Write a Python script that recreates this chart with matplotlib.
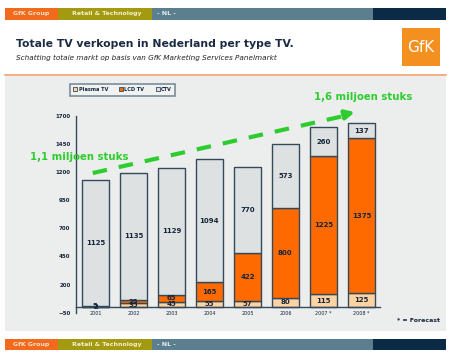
import numpy as np
import matplotlib
matplotlib.use('Agg')
import matplotlib.pyplot as plt
from matplotlib.patches import Rectangle, Patch

# data (stack: plasma at bottom, then LCD, then CTV)
years = ['2001', '2002', '2003', '2004', '2005', '2006', '2007 *', '2008 *']
plasma = [2, 35, 45, 55, 57, 80, 115, 125]
lcd = [5, 25, 65, 165, 422, 800, 1225, 1375]
ctv = [1125, 1135, 1129, 1094, 770, 573, 260, 137]
y_ticks = [-50, 200, 450, 700, 950, 1200, 1450, 1700]

c_plasma = '#fdd3a4'
c_lcd = '#ff6a00'
c_ctv = '#dde1e2'
c_edge = '#34495a'
c_text = '#16263a'
c_green = '#2ecc2e'
c_panel = '#eceeee'

fig = plt.figure(figsize=(4.5, 3.57), dpi=100)

# background drawn in pixel coordinates
bg = fig.add_axes([0, 0, 1, 1], zorder=0)
bg.set_xlim(0, 450)
bg.set_ylim(357, 0)
bg.axis('off')


def banner(y0, h):
    bg.add_patch(Rectangle((5, y0), 53, h, color='#f26a1b', lw=0))
    bg.add_patch(Rectangle((58, y0), 94, h, color='#a39a12', lw=0))
    bg.add_patch(Rectangle((152, y0), 221, h, color='#5b7f8f', lw=0))
    bg.add_patch(Rectangle((373, y0), 73, h, color='#0b2a45', lw=0))
    ym = y0 + h / 2
    bg.text(13, ym, 'GfK Group', color='#fde0cc', fontsize=4.5, fontweight='bold', va='center')
    bg.text(72, ym, 'Retail & Technology', color='#f4f0c8', fontsize=4.5, fontweight='bold', va='center')
    bg.text(157, ym, '- NL -', color='#e6eef2', fontsize=4.5, fontweight='bold', va='center')


banner(8, 11.5)
banner(338.5, 11.5)

bg.text(16, 44, 'Totale TV verkopen in Nederland per type TV.', color='#1b2b44',
        fontsize=7.8, fontweight='bold', va='center')
bg.text(16, 57.5, 'Schatting totale markt op basis van GfK Marketing Services Panelmarkt',
        color='#222222', fontsize=5.2, style='italic', va='center')

# GfK logo
bg.add_patch(Rectangle((402, 28), 38, 38, color='#f3901f', lw=0))
bg.text(421, 47, 'GfK', color='white', fontsize=11, ha='center', va='center')

# orange rule and grey panel
bg.plot([5, 446], [75, 75], color='#f4a070', lw=1.2)
bg.add_patch(Rectangle((5, 76), 441, 255, color=c_panel, lw=0))
bg.text(440, 320, '* = Forecast', color=c_text, fontsize=4.5, fontweight='bold',
        ha='right', va='center')

# chart
ax = fig.add_axes([76 / 450, 1 - 312.6 / 357, 304 / 450, (312.6 - 116) / 357], zorder=1)
ax.patch.set_alpha(0)
x = np.arange(len(years))
w = 0.73
plasma = np.array(plasma)
lcd = np.array(lcd)
ctv = np.array(ctv)
b1 = ax.bar(x, plasma, w, color=c_plasma, edgecolor=c_edge, lw=1)
b2 = ax.bar(x, lcd, w, bottom=plasma, color=c_lcd, edgecolor=c_edge, lw=1)
b3 = ax.bar(x, ctv, w, bottom=plasma + lcd, color=c_ctv, edgecolor=c_edge, lw=1)

for i in range(len(years)):
    bottoms = [0, plasma[i], plasma[i] + lcd[i]]
    for val, b in zip([plasma[i], lcd[i], ctv[i]], bottoms):
        ax.text(x[i], b + val / 2, str(val), ha='center', va='center',
                fontsize=5, fontweight='bold', color=c_text)

ax.set_xlim(-0.51, 7.49)
ax.set_ylim(-50, 1700)
ax.set_yticks(y_ticks)
ax.set_xticks(x)
ax.set_xticklabels(years)
ax.tick_params(axis='y', labelsize=4, length=0, pad=4, labelcolor=c_text)
ax.tick_params(axis='x', labelsize=3.5, length=0, pad=3, labelcolor=c_text)
for t in ax.get_yticklabels() + ax.get_xticklabels():
    t.set_fontweight('bold')
ax.spines['top'].set_visible(False)
ax.spines['right'].set_visible(False)
ax.spines['left'].set_color(c_edge)
ax.spines['bottom'].set_color(c_edge)
ax.spines['left'].set_linewidth(1)
ax.spines['bottom'].set_linewidth(1)
ax.spines['bottom'].set_position(('data', 0))

# dashed growth arrow
ax.plot([-0.07, 6.6], [1192, 1705], color=c_green, lw=3, dashes=(3.5, 2.9),
        clip_on=False, solid_capstyle='butt', dash_capstyle='butt')
ax.annotate('', xy=(6.9, 1740), xytext=(6.5, 1708), annotation_clip=False,
            arrowprops=dict(arrowstyle='-|>', color=c_green, lw=3, mutation_scale=13))
ax.text(-1.72, 1337, '1,1 miljoen stuks', color=c_green, fontsize=7.3, fontweight='bold',
        va='center', clip_on=False)
ax.text(5.75, 1865, '1,6 miljoen stuks', color=c_green, fontsize=7.3, fontweight='bold',
        va='center', clip_on=False)

handles = [Patch(facecolor=c_plasma, edgecolor=c_edge, lw=0.6),
           Patch(facecolor=c_lcd, edgecolor=c_edge, lw=0.6),
           Patch(facecolor=c_ctv, edgecolor=c_edge, lw=0.6)]
leg = fig.legend(handles, ['Plasma TV', 'LCD TV', 'CTV'], loc='center',
                 bbox_to_anchor=(122.5 / 450, 1 - 89.5 / 357), ncol=3,
                 prop={'size': 3.6, 'weight': 'bold'}, frameon=True, fancybox=False,
                 handlelength=0.8, handleheight=0.8, handletextpad=0.3,
                 columnspacing=2.2, borderpad=0.7)
leg.get_frame().set_edgecolor('#5c7585')
leg.get_frame().set_linewidth(1.2)
leg.get_frame().set_facecolor('#f2f4f4')
for t in leg.get_texts():
    t.set_color(c_text)

fig.savefig('out.png', dpi=100)
